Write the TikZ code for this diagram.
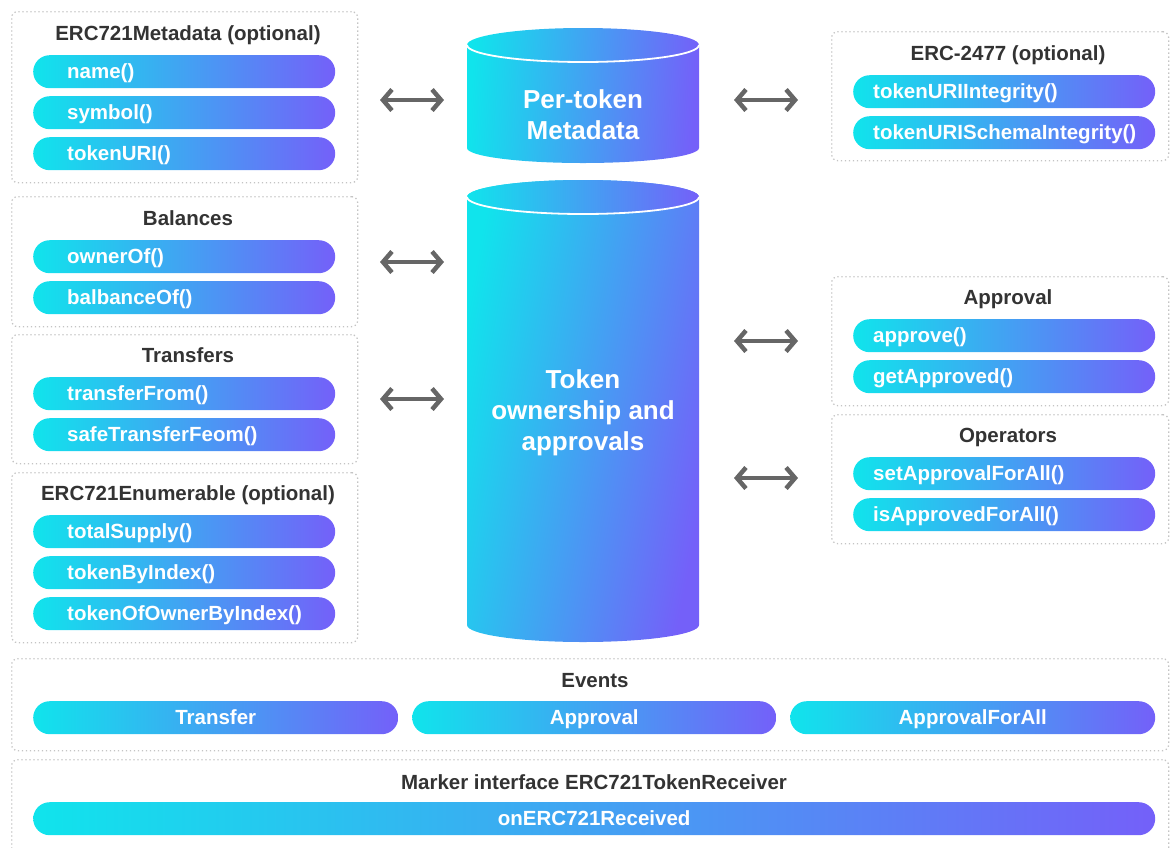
\documentclass[tikz,border=0pt]{standalone}
\usepackage{fontspec}
\setmainfont{Liberation Sans}
\usetikzlibrary{arrows.meta}
\definecolor{cA}{HTML}{10E4EC}
\definecolor{cB}{HTML}{7460F9}
\definecolor{hd}{HTML}{333333}
\definecolor{argray}{HTML}{666666}
\definecolor{gb}{HTML}{C4C4C4}
\begin{document}
\begin{tikzpicture}[x=1pt,y=-1pt,
  grp/.style={draw=gb, line width=1.3pt, dash pattern=on 1.3pt off 2.7pt, rounded corners=6pt, anchor=north west, inner sep=0pt},
  ttl/.style={text=hd, font=\fontsize{20.5}{24}\selectfont\bfseries, inner sep=0pt, text height=15pt, text depth=0pt},
  pill/.style={rounded corners=16.5pt, left color=cA, right color=cB, minimum height=33pt, inner ysep=0pt, text height=15pt, text depth=2pt, text=white, font=\fontsize{20.5}{24}\selectfont\bfseries, anchor=north west},
  lpill/.style={pill, minimum width=302pt, inner xsep=0pt, text width=234pt, align=left},
  rpill/.style={pill, minimum width=302pt, inner xsep=0pt, text width=262pt, align=left},
  epill/.style={pill, inner xsep=0pt, align=center},
  cyltxt/.style={text=white, font=\fontsize{26}{31}\selectfont\bfseries, align=center, inner sep=0pt},
  cylfill/.style={left color=cA, right color=cB},
  dar/.style={draw=argray, line width=4.5pt, {Straight Barb[length=9pt,width=21pt]}-{Straight Barb[length=9pt,width=21pt]}}
]
\useasboundingbox (0,0) rectangle (1171,847);
\clip (0,0) rectangle (1171,847);

% ---------- left groups ----------
\node[grp, minimum width=346pt, minimum height=171pt] (g1) at (11,11) {};
\node[ttl] (t1) at (188,33) {ERC721Metadata (optional)};
\node[lpill] (p11) at (33,55) {name()};
\node[lpill] (p12) at (33,96) {symbol()};
\node[lpill] (p13) at (33,137) {tokenURI()};

\node[grp, minimum width=346pt, minimum height=130pt] (g2) at (11,196) {};
\node[ttl] (t2) at (188,218) {Balances};
\node[lpill] (p21) at (33,240) {ownerOf()};
\node[lpill] (p22) at (33,281) {balbanceOf()};

\node[grp, minimum width=346pt, minimum height=129pt] (g3) at (11,334) {};
\node[ttl] (t3) at (188,355) {Transfers};
\node[lpill] (p31) at (33,377) {transferFrom()};
\node[lpill] (p32) at (33,418) {safeTransferFeom()};

\node[grp, minimum width=346pt, minimum height=170pt] (g4) at (11,472) {};
\node[ttl] (t4) at (188,493) {ERC721Enumerable (optional)};
\node[lpill] (p41) at (33,515) {totalSupply()};
\node[lpill] (p42) at (33,556) {tokenByIndex()};
\node[lpill] (p43) at (33,597) {tokenOfOwnerByIndex()};

% ---------- right groups ----------
\node[grp, minimum width=337pt, minimum height=129pt] (g5) at (831,31) {};
\node[ttl] (t5) at (1008,53) {ERC-2477 (optional)};
\node[rpill] (p51) at (853,75) {tokenURIIntegrity()};
\node[rpill] (p52) at (853,116) {tokenURISchemaIntegrity()};

\node[grp, minimum width=337pt, minimum height=129pt] (g6) at (831,276) {};
\node[ttl] (t6) at (1008,297) {Approval};
\node[rpill] (p61) at (853,319) {approve()};
\node[rpill] (p62) at (853,360) {getApproved()};

\node[grp, minimum width=337pt, minimum height=129pt] (g7) at (831,414) {};
\node[ttl] (t7) at (1008,435) {Operators};
\node[rpill] (p71) at (853,457) {setApprovalForAll()};
\node[rpill] (p72) at (853,498) {isApprovedForAll()};

% ---------- bottom groups ----------
\node[grp, minimum width=1157pt, minimum height=92pt] (g8) at (11,658) {};
\node[ttl] (t8) at (595,680) {Events};
\node[epill, minimum width=365pt] (p81) at (33,701) {Transfer};
\node[epill, minimum width=364pt] (p82) at (412,701) {Approval};
\node[epill, minimum width=365pt] (p83) at (790,701) {ApprovalForAll};

\node[grp, minimum width=1157pt, minimum height=110pt] (g9) at (11,759) {};
\node[ttl] (t9) at (594,782) {Marker interface ERC721TokenReceiver};
\node[epill, minimum width=1122pt] (p91) at (33,802) {onERC721Received};

% ---------- cylinders ----------
\shade[cylfill, shading angle=86] (467,45) -- (467,148) arc[start angle=180,end angle=360,x radius=116pt,y radius=15pt]
  -- (699,45) arc[start angle=0,end angle=180,x radius=116pt,y radius=17pt] -- cycle;
\draw[white,line width=1.8pt] (467,45) arc[start angle=180,end angle=360,x radius=116pt,y radius=17pt];
\node[cyltxt] (c1) at (583,115) {Per-token\\Metadata};

\shade[cylfill, shading angle=79] (467,197) -- (467,625) arc[start angle=180,end angle=360,x radius=116pt,y radius=17pt]
  -- (699,197) arc[start angle=0,end angle=180,x radius=116pt,y radius=17pt] -- cycle;
\shade[cylfill] (583,197) ellipse [x radius=116pt, y radius=17pt];
\draw[white,line width=1.8pt] (467,197) arc[start angle=180,end angle=360,x radius=116pt,y radius=17pt];
\node[cyltxt] (c2) at (583,413) {Token\\ownership and\\approvals};

% ---------- arrows ----------
\coordinate (l1a) at (380,100); \coordinate (l1b) at (444,100);
\coordinate (l2a) at (380,262); \coordinate (l2b) at (444,262);
\coordinate (l3a) at (380,399); \coordinate (l3b) at (444,399);
\coordinate (r1a) at (734,100); \coordinate (r1b) at (798,100);
\coordinate (r2a) at (734,341); \coordinate (r2b) at (798,341);
\coordinate (r3a) at (734,478); \coordinate (r3b) at (798,478);
\draw[dar] (l1a) -- (l1b);
\draw[dar] (l2a) -- (l2b);
\draw[dar] (l3a) -- (l3b);
\draw[dar] (r1a) -- (r1b);
\draw[dar] (r2a) -- (r2b);
\draw[dar] (r3a) -- (r3b);
\end{tikzpicture}
\end{document}
